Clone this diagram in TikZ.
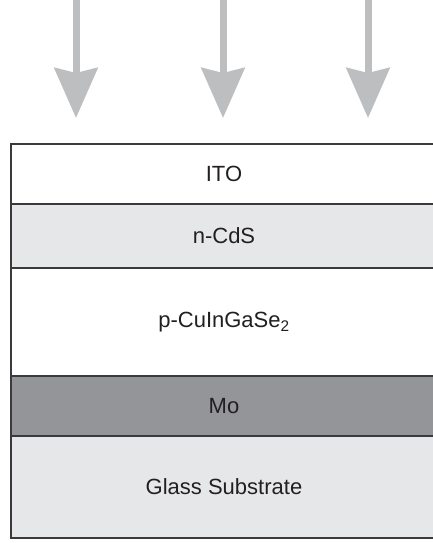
\documentclass[tikz,border=0pt]{standalone}
\usepackage{fontspec}
\setmainfont{Liberation Sans}
\usetikzlibrary{arrows.meta}

\definecolor{raygray}{HTML}{BCBEC0}
\definecolor{lightlayer}{HTML}{E6E7E8}
\definecolor{molayer}{HTML}{939598}
\definecolor{edgegray}{HTML}{3A3A3C}
\definecolor{inkblack}{HTML}{231F20}

\tikzset{
  layer/.style={draw=edgegray, line width=2pt, rectangle, inner sep=0pt, outer sep=0pt,
    minimum width=426pt, text=inkblack, font=\fontsize{22}{26}\selectfont},
  ray/.style={draw=raygray, line width=7pt,
    -{Stealth[length=50pt, width=43pt, inset=5pt, fill=raygray]}}
}

\begin{document}
\begin{tikzpicture}[x=1pt, y=-1pt]
        \useasboundingbox (0,0) rectangle (432,543);
        % Incoming light
        \foreach \name/\xpos in {left/76, middle/223, right/368} {
            \coordinate (top\name) at (\xpos,-6);
            \coordinate (tip\name) at (\xpos,118);
            \draw[ray] (top\name) -- (tip\name);
        }
        % Layer stack, top to bottom
        \node[layer, fill=white, minimum height=60pt] (ito) at (224,174) {ITO};
        \node[layer, fill=lightlayer, minimum height=64pt] (cds) at (224,236) {n-CdS};
        \node[layer, fill=white, minimum height=108pt] (cigs) at (224,322) {p-CuInGaSe\textsubscript{2}};
        \node[layer, fill=molayer, minimum height=60pt] (mo) at (224,406) {Mo};
        \node[layer, fill=lightlayer, minimum height=102pt] (glass) at (224,487) {Glass Substrate};
    \end{tikzpicture}
\end{document}
